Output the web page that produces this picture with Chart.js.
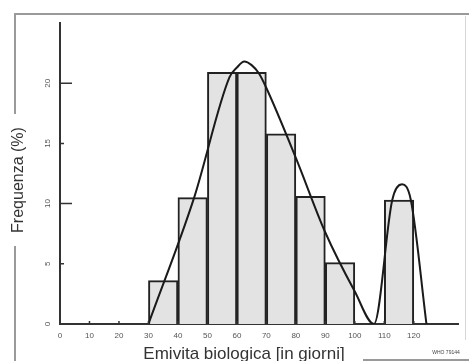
<!DOCTYPE html>
<html><head><meta charset="utf-8">
<script src="https://cdn.jsdelivr.net/npm/chart.js@4/dist/chart.umd.min.js"></script>
<style>html,body{margin:0;padding:0;background:#fff;overflow:hidden}#wrap{width:469px;height:361px;position:relative}</style>
</head><body><div id="wrap"><canvas id="c"></canvas></div>
<script>
// histogram bins (class centres, days) and frequencies (%)
const binCenters = [35, 45, 55, 65, 75, 85, 95, 115];
const binFreq    = [3.6, 10.5, 20.9, 20.9, 15.8, 10.6, 5.1, 10.3];
// fitted curve
const curveX = [30, 45.5, 57.5, 60, 62.5, 65, 67.5, 70, 80, 90, 100, 106.5, 112.7, 116, 119, 124.3];
const curveY = [0, 10.5, 20.5, 21.3, 21.8, 21.5, 20.8, 19.6, 13.8, 7.6, 2.7, 0, 10.3, 11.6, 10.3, 0];
// tick labels
const xTicks = [0, 10, 20, 30, 40, 50, 60, 70, 80, 90, 100, 110, 120];
const yTicks = [0, 5, 10, 15, 20];
const yTitle = 'Frequenza (%)';
const xTitle = 'Emivita biologica [in giorni]';
const figCode = 'WHO 79144';

const FONT = 'Liberation Sans, Arial, sans-serif';

const deco = {
  id: 'deco',
  afterDraw(chart) {
    const {ctx, scales: {x, y}} = chart;
    ctx.save();
    // figure frame
    ctx.strokeStyle = '#9a9a9a'; ctx.lineWidth = 2;
    ctx.beginPath();
    ctx.moveTo(15, 361); ctx.lineTo(15, 246);
    ctx.moveTo(15, 114); ctx.lineTo(15, 14); ctx.lineTo(469, 14);
    ctx.moveTo(363, 360); ctx.lineTo(469, 360);
    ctx.stroke();
    ctx.strokeStyle = '#d6d6d6'; ctx.lineWidth = 1;
    ctx.beginPath(); ctx.moveTo(465.5, 16); ctx.lineTo(465.5, 340); ctx.stroke();

    // inward tick marks
    ctx.strokeStyle = '#333'; ctx.lineWidth = 1.5;
    ctx.beginPath();
    yTicks.forEach(v => {
      if (v === 0) return;
      const py = y.getPixelForValue(v);
      const len = (v % 10 === 0) ? 12 : 4;
      ctx.moveTo(x.left, py); ctx.lineTo(x.left + len, py);
    });
    xTicks.forEach(v => {
      if (v === 0) return;
      const px = x.getPixelForValue(v);
      ctx.moveTo(px, y.bottom); ctx.lineTo(px, y.bottom - 3);
    });
    ctx.stroke();

    // rotated y tick labels
    ctx.fillStyle = '#555';
    ctx.font = '8px ' + FONT;
    ctx.textAlign = 'center'; ctx.textBaseline = 'middle';
    yTicks.forEach(v => {
      const py = y.getPixelForValue(v);
      ctx.save(); ctx.translate(48, py); ctx.rotate(-Math.PI / 2);
      ctx.fillText(String(v), 0, 0); ctx.restore();
    });

    // axis titles
    ctx.fillStyle = '#333';
    ctx.font = '16px ' + FONT;
    ctx.save(); ctx.translate(19, 180); ctx.rotate(-Math.PI / 2);
    ctx.fillText(yTitle, 0, 0); ctx.restore();
    ctx.font = '17px ' + FONT;
    ctx.fillText(xTitle, 244, 354);

    ctx.font = '5px ' + FONT; ctx.fillStyle = '#444';
    ctx.fillText(figCode, 446, 353);
    ctx.restore();
  }
};

new Chart(document.getElementById('c'), {
  data: {
    datasets: [
      {
        type: 'line',
        data: curveX.map((v, i) => ({x: v, y: curveY[i]})),
        borderColor: '#1a1a1a', borderWidth: 2, pointRadius: 0,
        cubicInterpolationMode: 'monotone', fill: false, order: 0
      },
      {
        type: 'bar',
        data: binCenters.map((v, i) => ({x: v, y: binFreq[i]})),
        backgroundColor: '#e3e3e3', borderColor: '#222', borderWidth: 2,
        barPercentage: 1, categoryPercentage: 1, order: 1
      }
    ]
  },
  options: {
    responsive: true, maintainAspectRatio: false, animation: false,
    layout: {padding: {left: 0, right: 11, top: 23, bottom: 0}},
    plugins: {legend: {display: false}, tooltip: {enabled: false}},
    scales: {
      x: {
        type: 'linear', min: 0, max: 135, offset: false,
        afterBuildTicks: s => { s.ticks = xTicks.map(v => ({value: v})); },
        afterFit: s => { s.height = 361 - 324; },
        grid: {display: false, drawTicks: false},
        border: {display: true, color: '#333', width: 2},
        ticks: {padding: 7, color: '#555', font: {size: 8, family: FONT}, maxRotation: 0, autoSkip: false}
      },
      y: {
        type: 'linear', min: 0, max: 25,
        afterBuildTicks: s => { s.ticks = yTicks.map(v => ({value: v})); },
        afterFit: s => { s.width = 60; },
        grid: {display: false, drawTicks: false},
        border: {display: true, color: '#333', width: 2},
        ticks: {display: false}
      }
    }
  },
  plugins: [deco]
});
</script></body></html>
